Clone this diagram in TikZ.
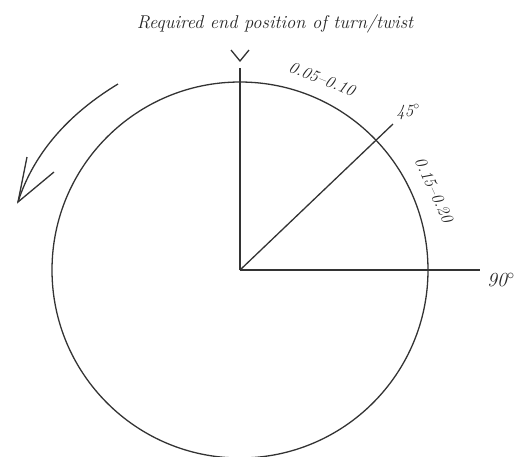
\documentclass[tikz,border=0pt]{standalone}
\usepackage{tikz}
\tikzset{
  ink/.style={line width=1.3pt, draw=black!80},
  hand/.style={font=\itshape\fontsize{18.5}{22}\selectfont, text=black!85, inner sep=0pt},
  lbl/.style={font=\itshape\fontsize{17}{20}\selectfont, text=black!85, inner sep=0pt}
}
\begin{document}
\begin{tikzpicture}[x=1pt,y=-1pt]
\useasboundingbox (0,0) rectangle (525,456);
% centre and circle
\coordinate (O) at (240,270);
\draw[ink] (O) circle[radius=188];
% radial lines
\coordinate (top) at (240,68);
\coordinate (diag) at (393,124);
\coordinate (right) at (480,270);
\draw[ink] (O) -- (top);
\draw[ink] (O) -- (diag);
\draw[ink] (O) -- (right);
% V mark
\coordinate (v1) at (231,50);
\coordinate (v2) at (240,61);
\coordinate (v3) at (249,50);
\draw[ink] (v1) -- (v2) -- (v3);
% title
\node[hand] (title) at (275,24) {Required end position of turn/twist};
% labels
\node[lbl, rotate=-22] (a1) at (322,79) {0.05--0.10};
\node[lbl] (a45) at (408,112) {45$^\circ$};
\node[lbl, rotate=-65] (a2) at (434,190) {0.15--0.20};
\node[lbl, anchor=west, font=\itshape\fontsize{20}{22}\selectfont] (a90) at (487,280) {90$^\circ$};
% rotation arrow
\coordinate (s) at (118,84);
\coordinate (tip) at (18,202);
\coordinate (h1) at (27,157);
\coordinate (h2) at (54,172);
\draw[ink] (s) .. controls (70,113) and (34,152) .. (tip);
\draw[ink] (h1) -- (tip) -- (h2);
\end{tikzpicture}
\end{document}
